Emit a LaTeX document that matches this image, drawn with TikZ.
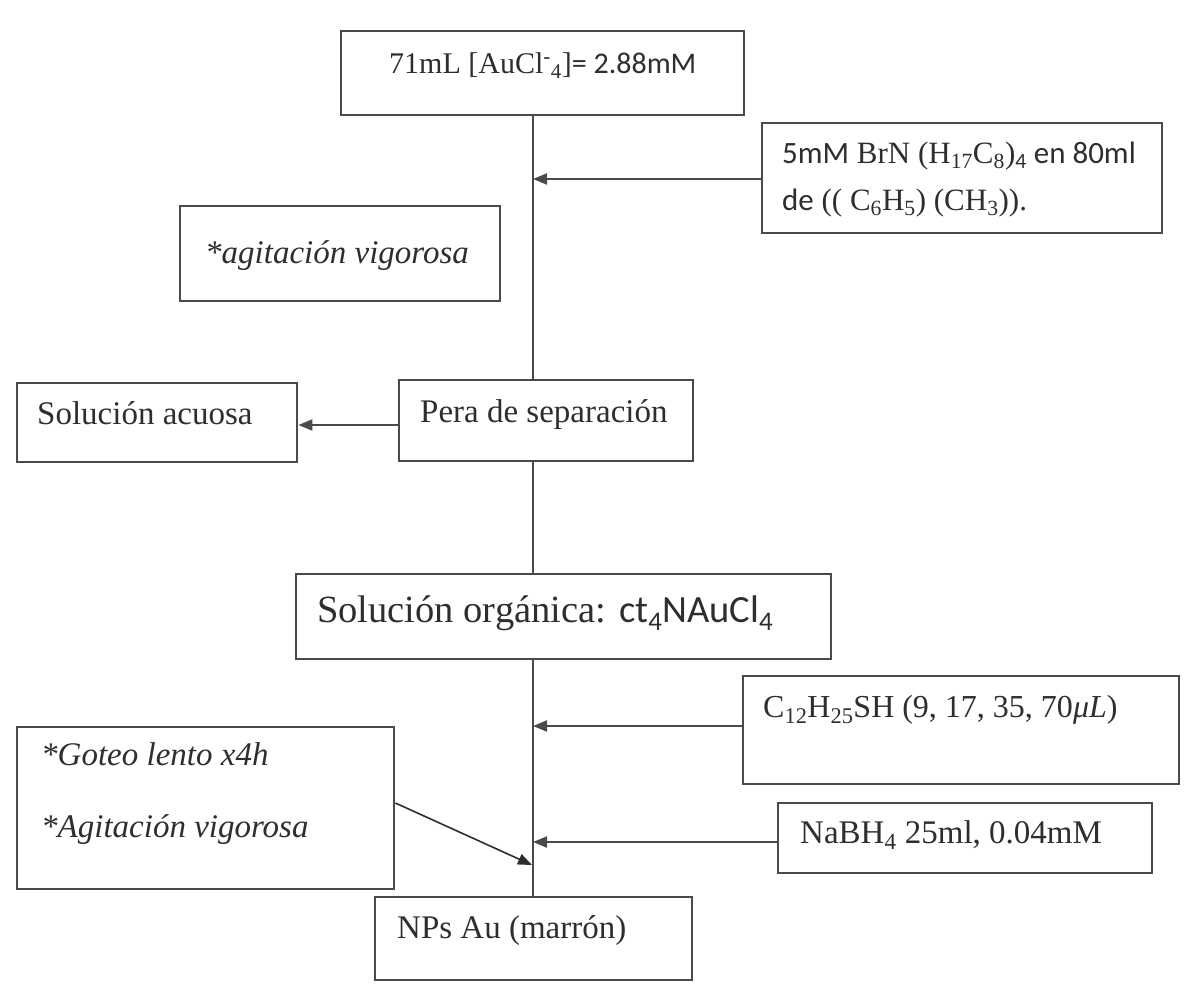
\documentclass[tikz,border=0pt]{standalone}
\usepackage{fontspec}
\setmainfont{Liberation Serif}
\newfontfamily\calib{Carlito}
\usetikzlibrary{arrows.meta}

\definecolor{ink}{HTML}{2E2E2E}
\definecolor{rule}{HTML}{4A4A4A}

% small lowered index in the current font
\newcommand{\lo}[1]{\textsubscript{#1}}

\begin{document}
\begin{tikzpicture}[x=1pt,y=-1pt,
  box/.style={draw=rule, line width=2.4pt, rectangle, anchor=north west, inner sep=0pt},
  txt/.style={anchor=base west, inner sep=0pt, text=ink, font=\fontsize{33}{40}\selectfont},
  flow/.style={draw=rule, line width=2pt},
  feed/.style={draw=rule, line width=2pt, -{Triangle[length=14pt,width=11pt]}},
]
\useasboundingbox (0,0) rectangle (1189,983);
\fill[white] (0,0) rectangle (1189,983);

% boxes
\node[box, minimum width=403pt, minimum height=84pt]  (top)    at (340,30)  {};
\node[box, minimum width=400pt, minimum height=110pt] (brn)    at (761,122) {};
\node[box, minimum width=320pt, minimum height=95pt]  (agit)   at (179,205) {};
\node[box, minimum width=280pt, minimum height=79pt]  (acuosa) at (16,382)  {};
\node[box, minimum width=294pt, minimum height=81pt]  (pera)   at (398,379) {};
\node[box, minimum width=535pt, minimum height=85pt]  (org)    at (295,573) {};
\node[box, minimum width=436pt, minimum height=108pt] (c12)    at (742,675) {};
\node[box, minimum width=377pt, minimum height=162pt] (goteo)  at (16,726)  {};
\node[box, minimum width=374pt, minimum height=70pt]  (nabh)   at (777,802) {};
\node[box, minimum width=317pt, minimum height=83pt]  (nps)    at (374,896) {};

% texts
\node[txt, font=\fontsize{30}{36}\selectfont] (ttop) at (389,73)
  {71mL [AuCl\textsuperscript{-}\lo{4}]{\calib= 2.88mM}};
\node[txt, font=\fontsize{31}{37}\selectfont] (tbrn1) at (782,163)
  {{\calib 5mM} BrN (H\lo{17}C\lo{8})\lo{\calib 4}{\calib\ en 80ml}};
\node[txt, font=\fontsize{31}{37}\selectfont] (tbrn2) at (782,210)
  {{\calib de} (( C\lo{6}H\lo{5}) (CH\lo{3})).};
\node[txt] (tagit)  at (205,263) {\itshape *agitación vigorosa};
\node[txt] (tacuosa) at (37,424) {Solución acuosa};
\node[txt] (tpera)  at (420,422) {Pera de separación};
\node[txt, font=\fontsize{38.5}{46}\selectfont] (torg) at (317,622)
  {Solución orgánica: {\calib ct\lo{4}NAuCl\lo{4}}};
\node[txt, font=\fontsize{32}{38}\selectfont] (tc12) at (763,717)
  {C\lo{12}H\lo{25}SH (9, 17, 35, 70\textit{μL})};
\node[txt] (tgot1) at (41,765) {\itshape *Goteo lento x4h};
\node[txt] (tgot2) at (41,837) {\itshape *Agitación vigorosa};
\node[txt] (tnabh) at (800,843) {NaBH\lo{4} 25ml, 0.04mM};
\node[txt] (tnps)  at (397,938) {NPs Au (marrón)};

% main line and feeds
\coordinate (spine) at (533,0);
\coordinate (in1)  at (533,179);
\coordinate (out1) at (0,425);
\coordinate (in2)  at (533,726);
\coordinate (in3)  at (533,842);
\coordinate (g0)   at (0,803);
\coordinate (g1)   at (532,865);

\draw[flow] (top.south -| spine) -- (pera.north -| spine);
\draw[flow] (pera.south -| spine) -- (org.north -| spine);
\draw[flow] (org.south -| spine) -- (nps.north -| spine);

\draw[feed] (brn.west |- in1) -- (in1);
\draw[feed] (pera.west |- out1) -- (acuosa.east |- out1);
\draw[feed] (c12.west |- in2) -- (in2);
\draw[feed] (nabh.west |- in3) -- (in3);
\draw[feed, draw=ink, line width=1.6pt] (goteo.east |- g0) -- (g1);
\end{tikzpicture}
\end{document}
